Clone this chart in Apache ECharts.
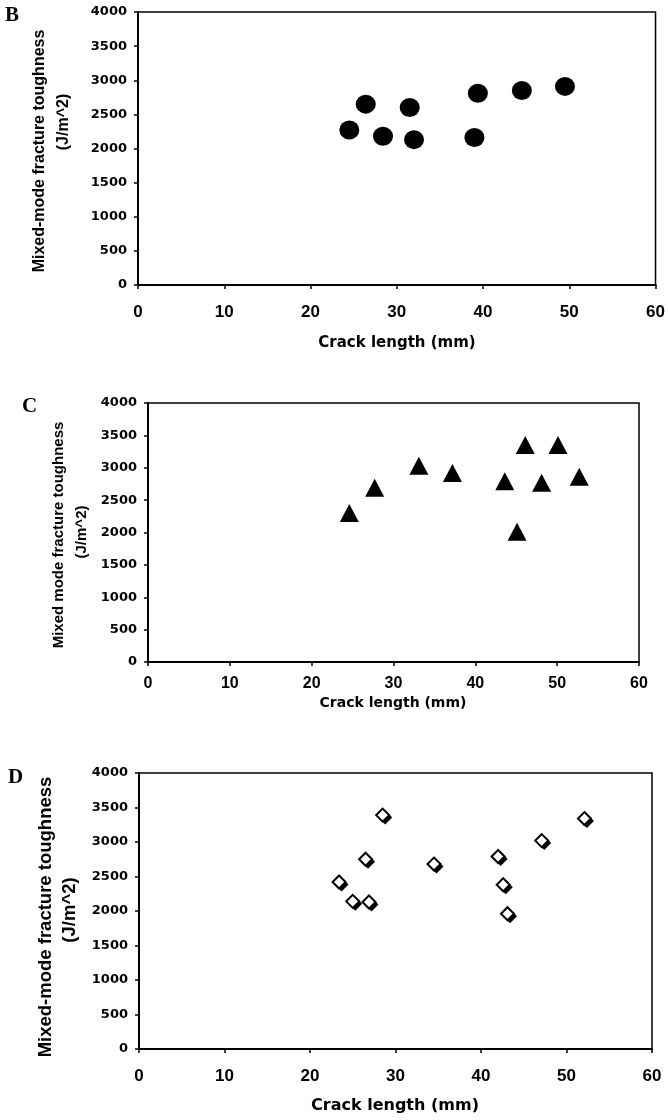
<!DOCTYPE html>
<html>
<head>
<meta charset="utf-8">
<script src="https://cdn.jsdelivr.net/npm/echarts@6/dist/echarts.min.js"></script>
<style>
  html, body { margin: 0; padding: 0; background: #fff; }
  #chart { width: 668px; height: 1120px; }
</style>
</head>
<body>
<div id="chart"></div>
<script>
const chart = echarts.init(document.getElementById('chart'))

// Panel B - circles
const bCrack = [24.5, 26.4, 28.4, 31.5, 32.0, 39.0, 39.4, 44.5, 49.5]
const bTough = [2270, 2650, 2180, 2600, 2130, 2160, 2810, 2850, 2910]

// Panel C - triangles
const cCrack = [24.6, 27.7, 33.1, 37.2, 43.6, 45.1, 46.1, 48.1, 50.1, 52.7]
const cTough = [2300, 2690, 3030, 2920, 2790, 2010, 3350, 2770, 3350, 2860]

// Panel D - diamonds
const dCrack = [23.4, 25.0, 26.9, 26.5, 28.5, 34.5, 42.0, 42.6, 43.1, 47.1, 52.1]
const dTough = [2420, 2140, 2130, 2750, 3390, 2680, 2790, 2380, 1960, 3020, 3340]

const xMax = 60
const xStep = 10
const yMax = 4000
const yStep = 500

const pair = (xs, ys) => xs.map((x, i) => [x, ys[i]])

// plot boxes (left, top, width, height)
const grids = [
  { left: 138, top: 12, width: 518, height: 273 },
  { left: 148, top: 403, width: 491, height: 259 },
  { left: 139, top: 773, width: 513, height: 276 },
]
const xLabelSize = [17, 16, 17]
const xLabelGap = [27, 22, 27]

const axisLine = { show: true, onZero: false, lineStyle: { color: '#000', width: 2 } }
const axisTick = { show: true, length: 4, lineStyle: { color: '#000', width: 1.5 } }

const option = {
  backgroundColor: '#fff',
  animation: false,
  grid: grids.map((g) => ({
    ...g,
    show: true,
    borderColor: '#000',
    borderWidth: 1.5,
    backgroundColor: 'transparent',
  })),
  xAxis: grids.map((g, i) => ({
    type: 'value',
    gridIndex: i,
    min: 0,
    max: xMax,
    interval: xStep,
    axisLine,
    axisTick,
    splitLine: { show: false },
    axisLabel: {
      color: '#000',
      fontFamily: 'Liberation Sans',
      fontWeight: 'bold',
      fontSize: xLabelSize[i],
      verticalAlign: 'middle',
      margin: xLabelGap[i],
      formatter: (v) => String(v),
    },
  })),
  yAxis: grids.map((g, i) => ({
    type: 'value',
    gridIndex: i,
    min: 0,
    max: yMax,
    interval: yStep,
    axisLine,
    axisTick,
    splitLine: { show: false },
    axisLabel: {
      color: '#000',
      fontFamily: 'DejaVu Sans',
      fontWeight: 'bold',
      fontSize: 13,
      margin: 11,
      formatter: (v) => String(v),
    },
  })),
  series: [
    {
      type: 'scatter',
      xAxisIndex: 0,
      yAxisIndex: 0,
      symbol: 'circle',
      symbolSize: [20, 19],
      itemStyle: { color: '#000', opacity: 1 },
      data: pair(bCrack, bTough),
    },
    {
      type: 'scatter',
      xAxisIndex: 1,
      yAxisIndex: 1,
      symbol: 'triangle',
      symbolSize: [19, 18],
      itemStyle: { color: '#000', opacity: 1 },
      data: pair(cCrack, cTough),
    },
    // shadow under the diamonds
    {
      type: 'scatter',
      xAxisIndex: 2,
      yAxisIndex: 2,
      symbol: 'diamond',
      symbolSize: [14, 14],
      symbolOffset: [2.5, 2.5],
      itemStyle: { color: '#000', opacity: 1 },
      data: pair(dCrack, dTough),
    },
    {
      type: 'scatter',
      xAxisIndex: 2,
      yAxisIndex: 2,
      symbol: 'diamond',
      symbolSize: [13, 13],
      itemStyle: { color: '#fff', borderColor: '#000', borderWidth: 2, opacity: 1 },
      data: pair(dCrack, dTough),
    },
  ],
  graphic: [],
}

// panel letters
const letter = (text, x, y) => ({
  type: 'text',
  x, y,
  style: {
    text,
    fill: '#000',
    font: 'bold 21px "Liberation Serif"',
    textAlign: 'left',
    textVerticalAlign: 'top',
  },
})

// rotated y titles
const yTitle = (text, x, y, size) => ({
  type: 'text',
  x, y,
  rotation: Math.PI / 2,
  style: {
    text,
    fill: '#000',
    font: `bold ${size}px "Liberation Sans"`,
    textAlign: 'center',
    textVerticalAlign: 'middle',
  },
})

const xTitle = (x, y, size) => ({
  type: 'text',
  x, y,
  style: {
    text: 'Crack length (mm)',
    fill: '#000',
    font: `bold ${size}px "DejaVu Sans"`,
    textAlign: 'center',
    textVerticalAlign: 'middle',
  },
})

option.graphic = [
  letter('B', 5, 5),
  letter('C', 22, 396),
  letter('D', 8, 767),
  yTitle('Mixed-mode fracture toughness', 40, 151, 16),
  yTitle('(J/m^2)', 64, 122, 16),
  yTitle('Mixed mode fracture toughness', 59, 535, 15),
  yTitle('(J/m^2)', 82, 532, 15),
  yTitle('Mixed-mode fracture toughness', 46, 917, 18.5),
  yTitle('(J/m^2)', 70, 910, 18.5),
  xTitle(397, 343, 15),
  xTitle(393, 703, 14),
  xTitle(395, 1106, 16),
]

chart.setOption(option)
</script>
</body>
</html>
